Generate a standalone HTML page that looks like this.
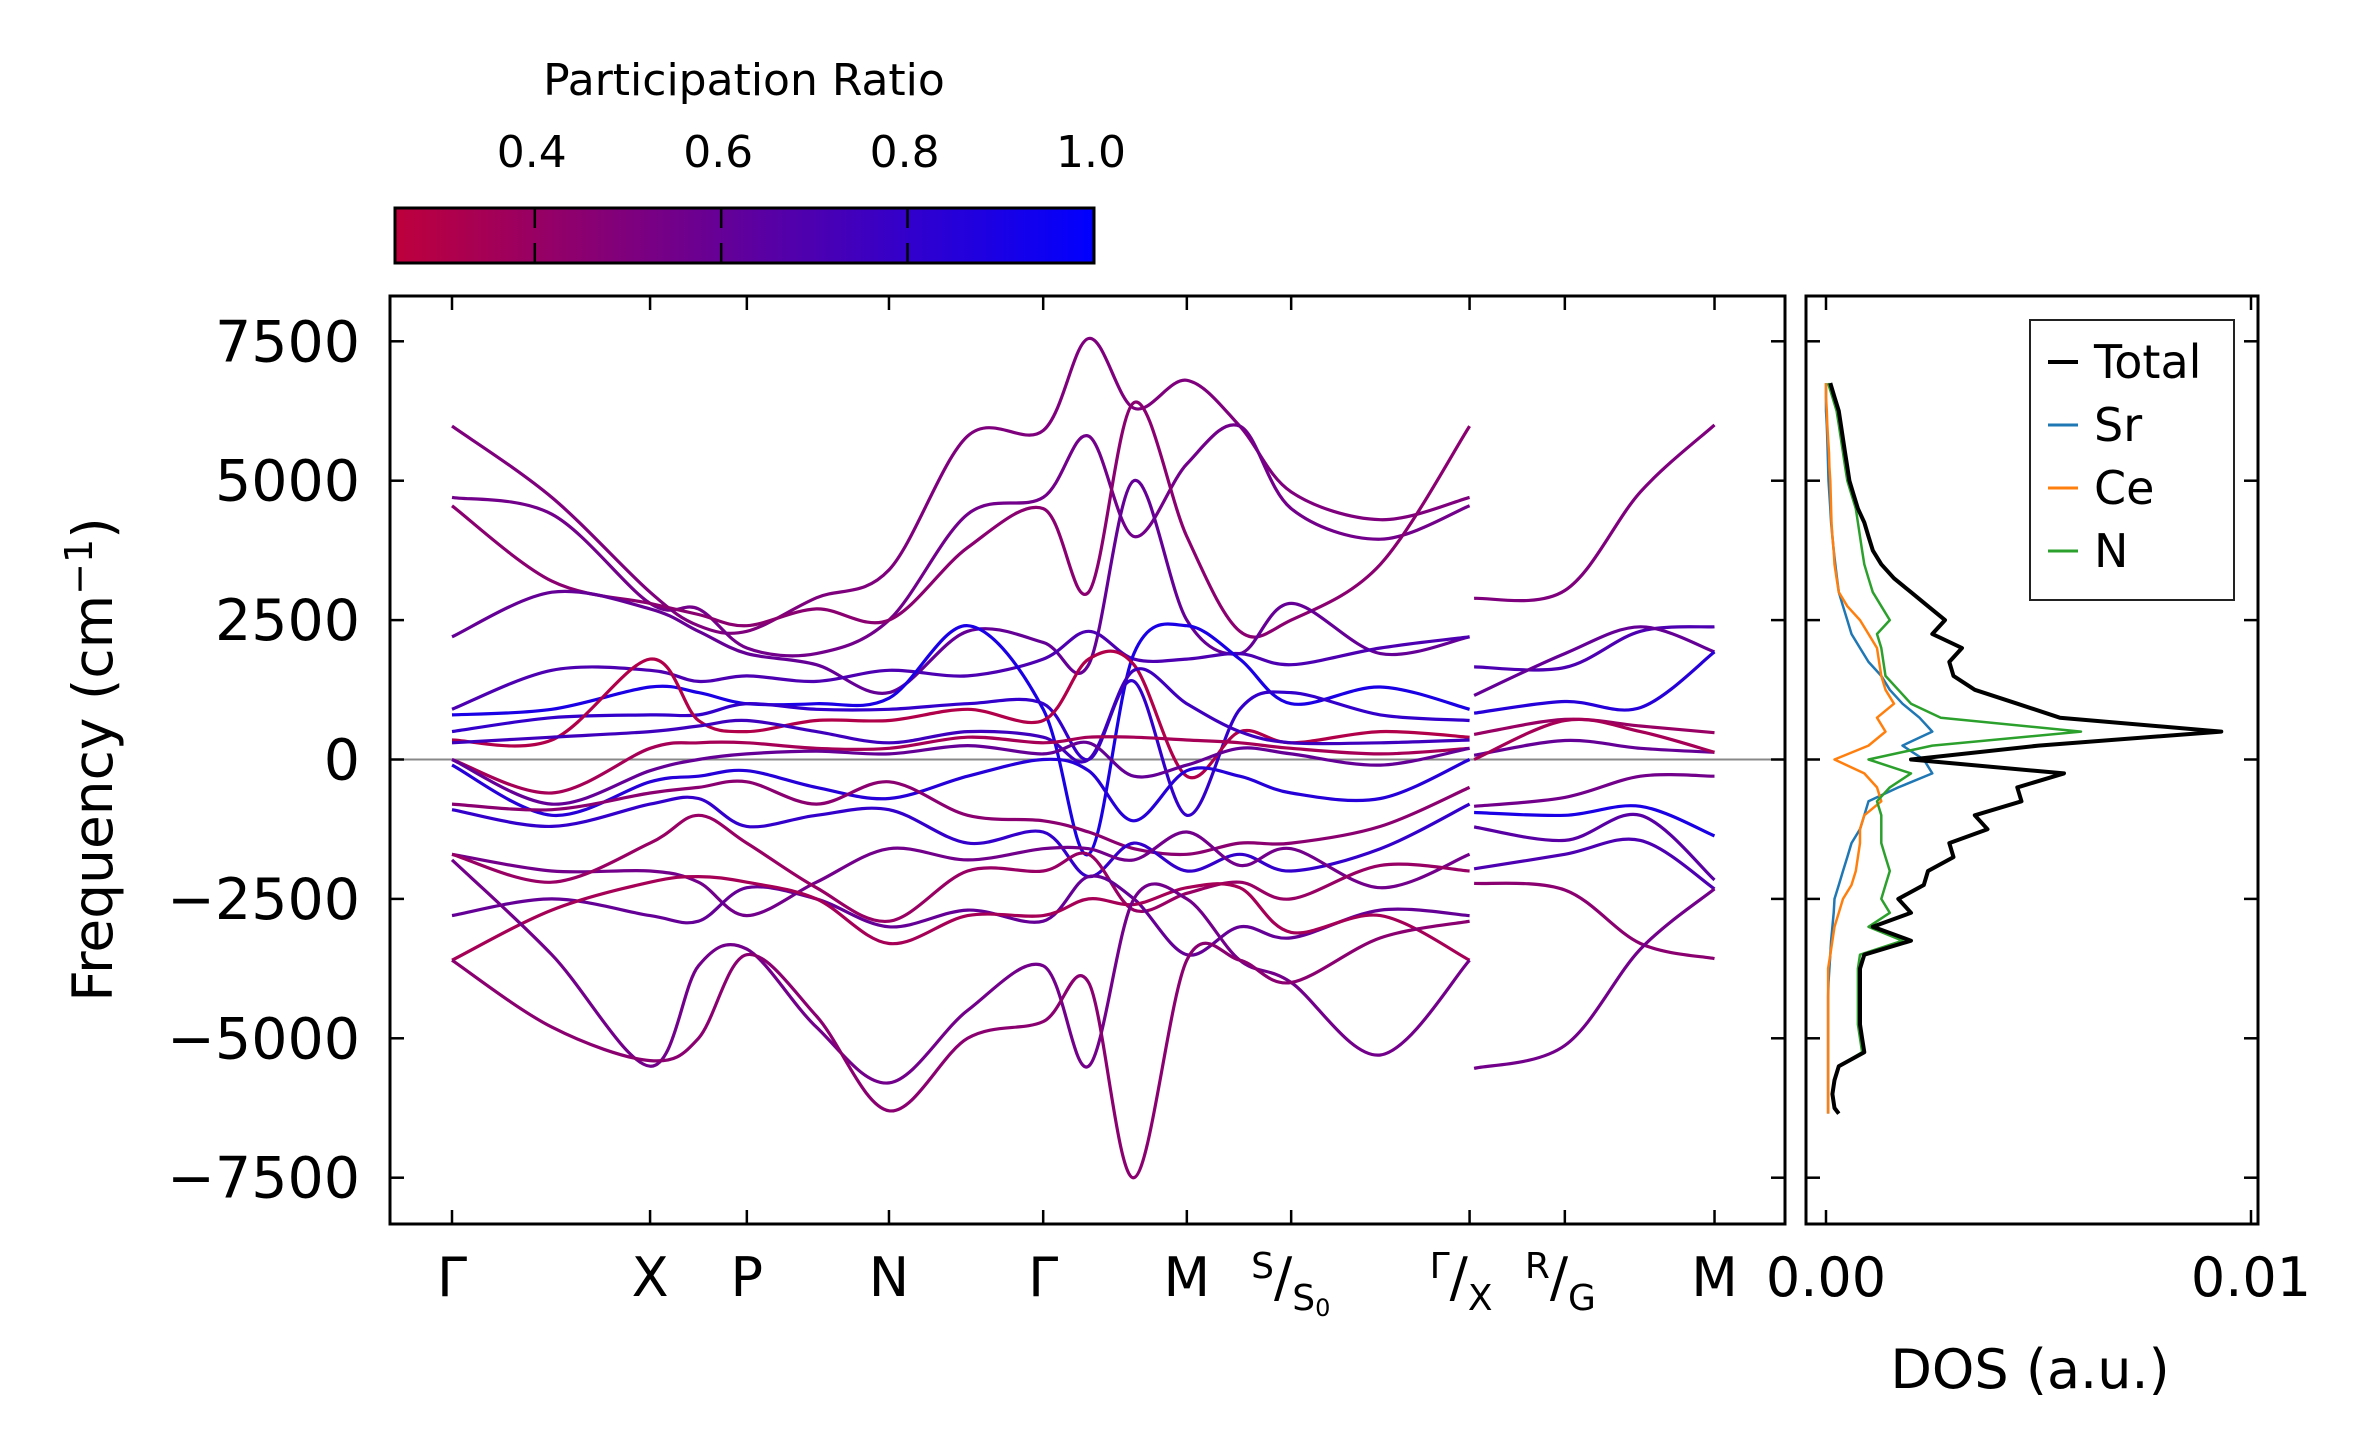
<!DOCTYPE html>
<html><head><meta charset="utf-8"><style>
html,body{margin:0;padding:0;background:#fff;}
svg{display:block;font-family:"DejaVu Sans","Liberation Sans",sans-serif;}
</style></head><body>
<svg id="fig" width="2369" height="1455" viewBox="0 0 2369 1455" xmlns="http://www.w3.org/2000/svg">
<defs><linearGradient id="cmap" x1="0" x2="1" y1="0" y2="0"><stop offset="0" stop-color="rgb(190,0,60)"/><stop offset="1" stop-color="rgb(0,0,255)"/></linearGradient></defs>
<g id="colorbar">
<text x="744" y="95" font-size="44" text-anchor="middle">Participation Ratio</text>
<rect x="395" y="208" width="699" height="55" fill="url(#cmap)" stroke="#000" stroke-width="3"/>
</g>
<g id="bands"></g>
<g id="dos"></g>
</svg>
<script>
// ---------- Band structure data ----------
const kNodes = [0,131,195,289,391,486,555,673,736,835];
const kLabels = ["Γ","X","P","N","Γ","M","S/S0","Γ/X","R/G","M"];
const yTicks = [-7500,-5000,-2500,0,2500,5000,7500];
const cbTicks = [0.4,0.6,0.8,1.0];
const kCols1 = [0,66,131,163,195,241,289,341,391,421,451,486,521,555,614,673];
const kCols2 = [676,736,786,835];
const b1 = [5980,4700,3000,2400,2300,2900,3400,5800,5900,7550,6300,6800,5980,4800,4300,4700];
const b2 = [4700,4400,2800,2700,2000,1900,2500,4400,4700,5800,4000,5300,5980,4500,3950,4550];
const b3 = [4550,3200,2800,2600,2400,2700,2500,3800,4500,3000,6400,4000,2300,2500,3500,5980];
const b4 = [2200,3000,2700,2300,1900,1700,1200,2300,2100,1700,5000,2500,1900,2800,1900,2200];
const b5 = [900,1600,1600,1400,1500,1400,1600,1500,1800,2300,1800,1800,1900,1700,2000,2200];
const b6 = [800,900,1300,1200,1000,1000,1100,2400,900,-1700,1900,2400,1800,1000,1300,900];
const b7 = [500,750,800,800,1000,900,900,1000,1000,0,1400,-1000,900,1200,800,700];
const b8 = [350,350,1800,700,500,700,700,900,700,1800,1700,-300,500,300,500,400];
const b9 = [300,400,500,600,700,500,300,500,400,0,1600,1000,500,300,300,350];
const b10 = [0,-600,200,300,300,200,200,400,300,400,400,350,300,200,100,200];
const b11 = [0,-800,-200,0,100,150,100,250,100,300,-300,-100,200,100,-100,200];
const b12 = [-100,-1000,-400,-300,-200,-500,-700,-300,0,-200,-1100,-200,-300,-600,-700,0];
const b13 = [-800,-900,-600,-500,-400,-800,-400,-1000,-1100,-1300,-1600,-1700,-1500,-1500,-1200,-500];
const b14 = [-900,-1200,-800,-700,-1200,-1000,-900,-1500,-1300,-2100,-1500,-2000,-1700,-2000,-1600,-800];
const b15 = [-1700,-2000,-2000,-2200,-2800,-2200,-1600,-1800,-1600,-1600,-1800,-1300,-1900,-1600,-2300,-1700];
const b16 = [-1700,-2200,-1500,-1000,-1500,-2300,-2900,-2000,-2000,-1700,-2700,-2400,-2200,-2500,-1900,-2000];
const b17 = [-2800,-2500,-2800,-2900,-2300,-2500,-3000,-2700,-2900,-2100,-2500,-3500,-3000,-3200,-2700,-2800];
const b18 = [-3600,-2700,-2200,-2100,-2200,-2500,-3300,-2800,-2800,-2500,-2600,-2300,-2300,-3100,-2800,-3600];
const b19 = [-1800,-3500,-5500,-3700,-3400,-4800,-5800,-4500,-3700,-5500,-2500,-2500,-3600,-4000,-5300,-3600];
const b20 = [-3600,-4800,-5400,-5000,-3500,-4600,-6300,-5000,-4700,-4000,-7500,-3600,-3600,-4000,-3200,-2900];
const pr1 = [0.5,0.55,0.45,0.6,0.7,0.9,0.8,0.3,0.75,0.35,0.6,0.85,0.45,0.8,0.55,0.4,0.6,0.35,0.55,0.45];
const s1 = [2890,3030,4800,6000];
const s2 = [1660,1650,2300,2380];
const s3 = [1150,1900,2380,1930];
const s4 = [830,1040,930,1930];
const s5 = [450,720,600,480];
const s6 = [75,340,200,130];
const s7 = [0,700,500,130];
const s8 = [-840,-680,-300,-300];
const s9 = [-950,-1000,-840,-1370];
const s10 = [-1210,-1450,-1000,-2160];
const s11 = [-1960,-1700,-1450,-2320];
const s12 = [-2220,-2340,-3300,-3570];
const s13 = [-5540,-5130,-3400,-2320];
const pr2 = [0.5,0.7,0.6,0.85,0.4,0.6,0.35,0.55,0.9,0.65,0.7,0.45,0.55];

// ---------- DOS data ----------
const dosFreq = [6750,6500,6250,6000,5750,5500,5250,5000,4750,4500,4250,4000,3750,3500,3250,3000,2750,2500,2250,2000,1750,1500,1250,1000,750,500,250,0,-250,-500,-750,-1000,-1250,-1500,-1750,-2000,-2250,-2500,-2750,-3000,-3250,-3500,-3750,-4000,-4250,-4500,-4750,-5000,-5250,-5500,-5750,-6000,-6250,-6350];
const dosTotal = [0.1,0.2,0.3,0.35,0.4,0.45,0.5,0.55,0.65,0.75,0.9,1.0,1.1,1.3,1.6,2.0,2.4,2.8,2.5,3.2,2.9,3.0,3.5,4.5,5.5,9.3,5.0,2.0,5.6,4.5,4.6,3.5,3.8,2.9,3.0,2.4,2.3,1.7,2.0,1.1,2.0,0.9,0.8,0.8,0.8,0.8,0.8,0.85,0.9,0.3,0.2,0.15,0.2,0.3];
const dosSr = [0,0,0,0.02,0.03,0.04,0.05,0.06,0.08,0.1,0.12,0.15,0.18,0.22,0.26,0.3,0.4,0.5,0.6,0.8,1.0,1.3,1.5,1.8,2.2,2.5,1.8,2.3,2.5,1.7,1.0,0.9,0.8,0.6,0.5,0.4,0.3,0.2,0.18,0.15,0.12,0.1,0.08,0.06,0.05,0.05,0.05,0.05,0.05,0.05,0.05,0.05,0.05,0.05];
const dosCe = [0,0,0.02,0.03,0.05,0.07,0.08,0.1,0.11,0.12,0.13,0.15,0.18,0.2,0.25,0.3,0.5,0.8,1.0,1.2,1.25,1.3,1.4,1.6,1.2,1.4,1.0,0.2,0.9,1.2,1.3,0.9,0.8,0.8,0.75,0.7,0.6,0.4,0.3,0.2,0.15,0.1,0.05,0.05,0.05,0.05,0.05,0.05,0.05,0.05,0.05,0.05,0.05,0.05];
const dosN = [0.05,0.15,0.25,0.3,0.35,0.4,0.45,0.5,0.6,0.7,0.75,0.8,0.85,0.9,1.0,1.1,1.3,1.5,1.2,1.3,1.35,1.4,1.7,2.0,2.7,6.0,2.5,1.0,2.0,1.5,1.2,1.3,1.3,1.3,1.4,1.5,1.4,1.3,1.5,1.0,1.8,0.8,0.75,0.75,0.75,0.75,0.75,0.8,0.85,0.3,0.2,0.15,0.2,0.3];
const dosTicks = [0.00,0.01];

// ---------- scales ----------
const NS = "http://www.w3.org/2000/svg";
function xK(k){ return 452 + k*1.512; }
function yF(f){ return 759.5 - f*(139.4/2500); }
function xDos(v){ return 1826 + v*425; } // v in 0.01 units
function prColor(p){ const t=Math.max(0,Math.min(1,(p-0.25)/0.75)); return `rgb(${Math.round(190*(1-t))},0,${Math.round(60+195*t)})`; }
function mk(tag, attrs, parent){ const e=document.createElementNS(NS,tag); for(const a in attrs) e.setAttribute(a,attrs[a]); parent.appendChild(e); return e; }
function smooth(pts){
  let d = `M${pts[0][0].toFixed(1)},${pts[0][1].toFixed(1)}`;
  for(let i=0;i<pts.length-1;i++){
    const p0=pts[Math.max(0,i-1)],p1=pts[i],p2=pts[i+1],p3=pts[Math.min(pts.length-1,i+2)];
    const c1=[p1[0]+(p2[0]-p0[0])/6,p1[1]+(p2[1]-p0[1])/6];
    const c2=[p2[0]-(p3[0]-p1[0])/6,p2[1]-(p3[1]-p1[1])/6];
    d+=` C${c1[0].toFixed(1)},${c1[1].toFixed(1)} ${c2[0].toFixed(1)},${c2[1].toFixed(1)} ${p2[0].toFixed(1)},${p2[1].toFixed(1)}`;
  }
  return d;
}

// ---------- colorbar ticks ----------
const cb = document.getElementById('colorbar');
function xCb(p){ return 395 + (p-0.25)/0.75*699; }
cbTicks.forEach(p=>{
  const x=xCb(p);
  if(p<1){
    const t1=mk('line',{x1:x,x2:x,y1:208,y2:228,stroke:'#000','stroke-width':2.5},cb);
    
    
    const t2=mk('line',{x1:x,x2:x,y1:243,y2:263,stroke:'#000','stroke-width':2.5},cb);
    
    
  }
  const tx=mk('text',{x:x-3,y:167,'font-size':44,'text-anchor':'middle'},cb);
  tx.textContent=p.toFixed(1);
  
  
});

// ---------- band panel ----------
const bp = document.getElementById('bands');
const L=390,R=1785,T=296,B=1224;
const zl=mk('line',{x1:L,x2:R,y1:yF(0),y2:yF(0),stroke:'#888','stroke-width':2},bp);


const bands1=[b1,b2,b3,b4,b5,b6,b7,b8,b9,b10,b11,b12,b13,b14,b15,b16,b17,b18,b19,b20];
bands1.forEach((b,i)=>{
  const p=mk('path',{d:smooth(b.map((f,j)=>[xK(kCols1[j]),yF(f)])),fill:'none',stroke:prColor(pr1[i]),'stroke-width':3.2},bp);
  
  
});
const bands2=[s1,s2,s3,s4,s5,s6,s7,s8,s9,s10,s11,s12,s13];
bands2.forEach((b,i)=>{
  const p=mk('path',{d:smooth(b.map((f,j)=>[xK(kCols2[j]),yF(f)])),fill:'none',stroke:prColor(pr2[i]),'stroke-width':3.2},bp);
  
  
});
const fr=mk('rect',{x:L,y:T,width:R-L,height:B-T,fill:'none',stroke:'#000','stroke-width':3},bp);


kNodes.forEach((k,i)=>{
  const x=xK(k);
  mk('line',{x1:x,x2:x,y1:B,y2:B-14,stroke:'#000','stroke-width':2.5},bp);
  mk('line',{x1:x,x2:x,y1:T,y2:T+14,stroke:'#000','stroke-width':2.5},bp);
  const lab=kLabels[i];
  const t=mk('text',{x:x,y:1296,'font-size':54,'text-anchor':'middle'},bp);
  
  
  if(lab.includes('/')){
    const [a,b]=lab.split('/');
    t.setAttribute('text-anchor','start');
    t.setAttribute('x',x-40);
    const s1e=mk('tspan',{'font-size':36,dy:-18},t); s1e.textContent=a;
    const s2e=mk('tspan',{'font-size':54,dy:18},t); s2e.textContent='/';
    if(b==='S0'){ const s3e=mk('tspan',{'font-size':36,dy:14},t); s3e.textContent='S'; const s4e=mk('tspan',{'font-size':24,dy:6},t); s4e.textContent='0'; }
    else { const s3e=mk('tspan',{'font-size':36,dy:14},t); s3e.textContent=b; }
  } else t.textContent=lab;
});
yTicks.forEach(f=>{
  const y=yF(f);
  mk('line',{x1:L,x2:L+14,y1:y,y2:y,stroke:'#000','stroke-width':2.5},bp);
  mk('line',{x1:R,x2:R-14,y1:y,y2:y,stroke:'#000','stroke-width':2.5},bp);
  mk('line',{x1:1806,x2:1820,y1:y,y2:y,stroke:'#000','stroke-width':2.5},bp);
  mk('line',{x1:2258,x2:2244,y1:y,y2:y,stroke:'#000','stroke-width':2.5},bp);
  const t=mk('text',{x:L-30,y:y+20,'font-size':57,'text-anchor':'end'},bp);
  t.textContent=(f<0?'\u2212':'')+Math.abs(f);
  
  
});
const yl=mk('text',{x:0,y:0,'font-size':55,'text-anchor':'middle',transform:`translate(112,${yF(0)}) rotate(-90)`},bp);


yl.textContent='Frequency (cm';
const sup=mk('tspan',{'font-size':38,dy:-20},yl); sup.textContent='\u22121';
const cl=mk('tspan',{dy:20},yl); cl.textContent=')';

// ---------- DOS panel ----------
const dp=document.getElementById('dos');
const dosSeries=[[dosSr,'#1f77b4',2.5,'dos-sr'],[dosCe,'#ff7f0e',2.5,'dos-ce'],[dosN,'#2ca02c',2.5,'dos-n'],[dosTotal,'#000',4,'dos-total']];
dosSeries.forEach(([arr,c,w,nm])=>{
  const d='M'+arr.map((v,i)=>`${xDos(v/10).toFixed(1)},${yF(dosFreq[i]).toFixed(1)}`).join(' L');
  const p=mk('path',{d:d,fill:'none',stroke:c,'stroke-width':w,'stroke-linejoin':'round'},dp);
  
  
});
const dfr=mk('rect',{x:1806,y:T,width:452,height:B-T,fill:'none',stroke:'#000','stroke-width':3},dp);


dosTicks.forEach(v=>{
  const x=xDos(v*100);
  mk('line',{x1:x,x2:x,y1:B,y2:B-14,stroke:'#000','stroke-width':2.5},dp);
  mk('line',{x1:x,x2:x,y1:T,y2:T+14,stroke:'#000','stroke-width':2.5},dp);
  const t=mk('text',{x:x,y:1296,'font-size':54,'text-anchor':'middle'},dp);
  t.textContent=v.toFixed(2);
  
  
});
const dl=mk('text',{x:2030,y:1388,'font-size':54,'text-anchor':'middle'},dp);
dl.textContent='DOS (a.u.)';


// legend
const lg=mk('g',{},dp);


mk('rect',{x:2030,y:320,width:204,height:280,fill:'#fff',stroke:'#222','stroke-width':2},lg);
[['Total','#000',4],['Sr','#1f77b4',3],['Ce','#ff7f0e',3],['N','#2ca02c',3]].forEach(([n,c,w],i)=>{
  const y=362+i*63;
  mk('line',{x1:2048,x2:2078,y1:y,y2:y,stroke:c,'stroke-width':w},lg);
  const t=mk('text',{x:2094,y:y+16,'font-size':46},lg);
  t.textContent=n;
  
  
});
</script>
</body></html>
